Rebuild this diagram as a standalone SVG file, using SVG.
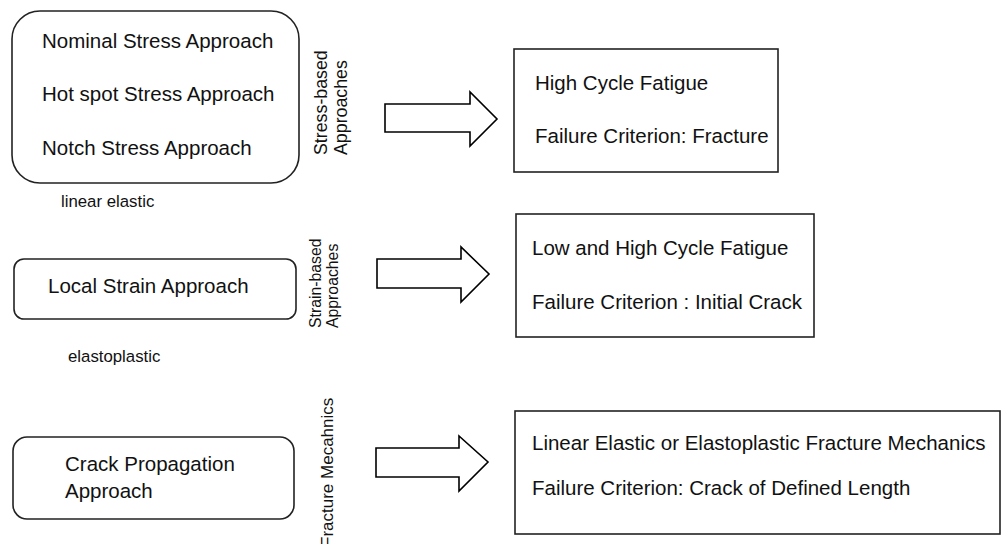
<svg xmlns="http://www.w3.org/2000/svg" width="1007" height="544" viewBox="0 0 1007 544">
<style>
.box{fill:#fff;stroke:#222;stroke-width:1.6}
.arrow{fill:#fff;stroke:#000;stroke-width:1.6;stroke-linejoin:miter}
text{font-family:"Liberation Sans",Arial,sans-serif;fill:#111}
.t{font-size:20.5px}
.s{font-size:16.8px}
</style>
<rect width="1007" height="544" fill="#fff"/>
<g id="stress-approaches">
<rect class="box" x="12" y="11" width="287" height="172" rx="28"/>
<text class="t" x="42" y="48">Nominal Stress Approach</text>
<text class="t" x="42" y="101">Hot spot Stress Approach</text>
<text class="t" x="42" y="155">Notch Stress Approach</text>
</g>
<g id="label-linear-elastic"><text class="s" x="61" y="207">linear elastic</text></g>
<g id="label-stress-based"><text transform="translate(327,155) rotate(-90)" style="font-size:17.8px">Stress-based</text><text transform="translate(347,155) rotate(-90)" style="font-size:17.8px">Approaches</text></g>
<g id="strain-approach">
<rect class="box" x="14" y="259" width="282" height="60" rx="10"/>
<text class="t" x="48" y="293">Local Strain Approach</text>
</g>
<g id="label-elastoplastic"><text class="s" x="68" y="362">elastoplastic</text></g>
<g id="label-strain-based"><text transform="translate(321,328) rotate(-90)" style="font-size:15.8px">Strain-based</text><text transform="translate(338,328) rotate(-90)" style="font-size:15.8px">Approaches</text></g>
<g id="crack-approach">
<rect class="box" x="13" y="437" width="281" height="82" rx="14"/>
<text class="t" x="65" y="471">Crack Propagation</text>
<text class="t" x="65" y="498">Approach</text>
</g>
<g id="label-fracture"><text transform="translate(333,547) rotate(-90)" style="font-size:17px">Fracture Mecahnics</text></g>
<g id="connectors">
<polygon class="arrow" points="385,104 470,104 470,92 497,119 470,146 470,132 385,132"/>
<polygon class="arrow" points="377,259 461,259 461,247 489,274 461,302 461,288 377,288"/>
<polygon class="arrow" points="376,448 459,448 459,436 488,462 459,491 459,477 376,477"/>
</g>
<g id="high-cycle">
<rect class="box" x="514" y="49" width="264" height="123"/>
<text class="t" x="535" y="90">High Cycle Fatigue</text>
<text class="t" x="535" y="143">Failure Criterion: Fracture</text>
</g>
<g id="low-high-cycle">
<rect class="box" x="516" y="214" width="298" height="123"/>
<text class="t" x="532" y="255">Low and High Cycle Fatigue</text>
<text class="t" x="532" y="309">Failure Criterion : Initial Crack</text>
</g>
<g id="fracture-mechanics">
<rect class="box" x="515" y="411" width="485" height="123"/>
<text class="t" x="532" y="450">Linear Elastic or Elastoplastic Fracture Mechanics</text>
<text class="t" x="532" y="495">Failure Criterion: Crack of Defined Length</text>
</g>
</svg>
